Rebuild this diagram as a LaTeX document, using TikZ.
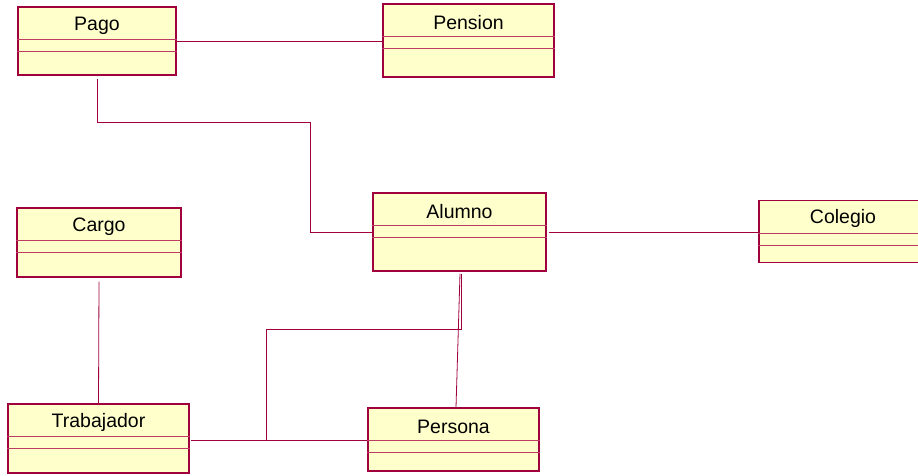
\documentclass[tikz,border=0pt]{standalone}
\usepackage{fontspec}
\setmainfont{Liberation Sans}
\definecolor{umlline}{RGB}{160,0,60}
\definecolor{umlsep}{RGB}{190,60,100}
\definecolor{umlfill}{RGB}{255,255,204}
\tikzstyle{classbox} = [rectangle, draw=umlline, fill=umlfill,
    line width=1.1pt, inner sep=0pt]
\tikzstyle{classname} = [font=\fontsize{19.5}{22}\selectfont, inner sep=0pt]
\tikzstyle{classsep} = [draw=umlsep, line width=0.8pt]
\tikzstyle{line} = [draw=umlline, line width=0.8pt]
% name, center, width, height, title
\newcommand{\umlclass}[5]{%
  \node[classbox, minimum width=#3, minimum height=#4] (#1) at #2 {};
  \node[classname] (#1name) at ([yshift=-19pt]#1.north) {#5};
  \path[classsep] ([yshift=-33pt]#1.north west) -- ([yshift=-33pt]#1.north east);
  \path[classsep] ([yshift=-45pt]#1.north west) -- ([yshift=-45pt]#1.north east);
}
\begin{document}
\begin{tikzpicture}[x=1pt, y=-1pt]
  \clip (0,0) rectangle (918,475);
  % Place classes
  \umlclass{pago}{(97,41)}{158pt}{68pt}{Pago}
  \umlclass{pension}{(468.5,40.5)}{171pt}{73pt}{Pension}
  \umlclass{alumno}{(459.5,232)}{173pt}{78pt}{Alumno}
  \umlclass{colegio}{(843,231.5)}{168pt}{62pt}{Colegio}
  \umlclass{cargo}{(99,242.5)}{164pt}{69pt}{Cargo}
  \umlclass{trabajador}{(98.5,438.5)}{181pt}{69pt}{Trabajador}
  \umlclass{persona}{(453.5,439.5)}{171pt}{63pt}{Persona}
  \coordinate (bendA) at (310,122);
  \coordinate (bendB) at (266,329);
  \coordinate (tpjoin) at (191,440.5);

  % Draw edges
  \path [line] (pago.east) -- (pago.east -| pension.west);
  \path [line] ([yshift=-3pt]pago.south) |- (bendA) |- (alumno.west);
  \path [line] ([xshift=2pt]alumno.east) -- (alumno.east -| colegio.west);
  \path [line] ([yshift=-4pt]cargo.south) -- (trabajador.north);
  \path [line] (tpjoin) -- (tpjoin -| persona.west);
  \path [line] (tpjoin -| bendB) -- (bendB) -| ([xshift=1.5pt,yshift=-2pt]alumno.south);
  \path [line] ([xshift=2.5pt]persona.north) -- ([xshift=0.5pt,yshift=-2pt]alumno.south);
\end{tikzpicture}
\end{document}
